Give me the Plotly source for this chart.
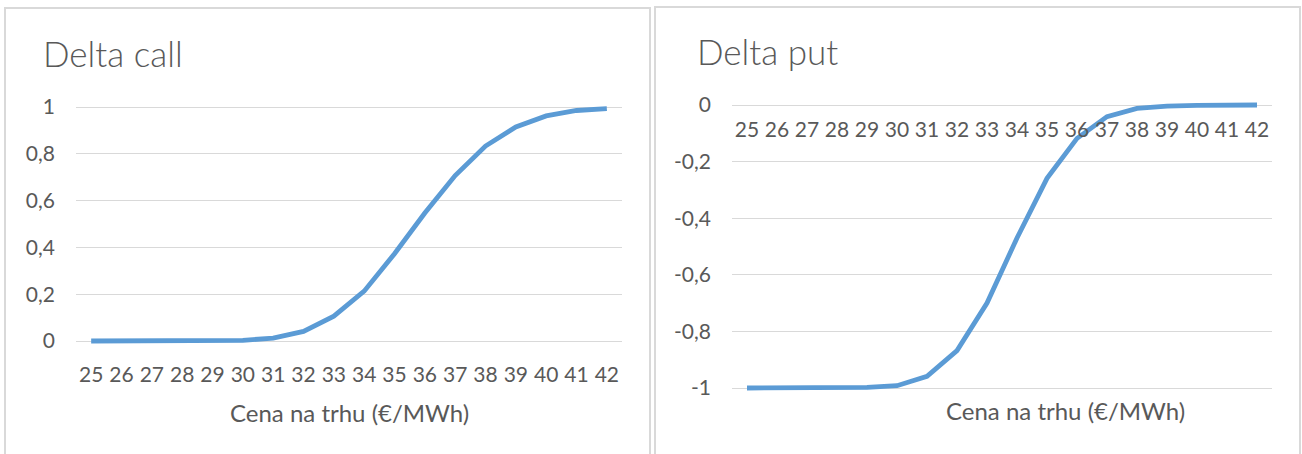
import plotly.graph_objects as go

# ---- data ----
prices = ["25", "26", "27", "28", "29", "30", "31", "32", "33", "34",
          "35", "36", "37", "38", "39", "40", "41", "42"]
delta_call = [0.0, 0.0, 0.0, 0.0, 0.001, 0.003, 0.012, 0.041, 0.106, 0.213,
              0.373, 0.547, 0.707, 0.833, 0.915, 0.962, 0.985, 0.993]
delta_put = [-1.0, -1.0, -1.0, -1.0, -0.998, -0.992, -0.959, -0.868, -0.700, -0.470,
             -0.259, -0.118, -0.041, -0.012, -0.004, -0.001, 0.0, 0.0]
call_ticks = [0, 0.2, 0.4, 0.6, 0.8, 1]
call_ticktext = ["0", "0,2", "0,4", "0,6", "0,8", "1"]
put_ticks = [-1, -0.8, -0.6, -0.4, -0.2, 0]
put_ticktext = ["-1", "-0,8", "-0,6", "-0,4", "-0,2", "0"]
title_call = "Delta call"
title_put = "Delta put"
x_title = "Cena na trhu (€/MWh)"

W, H = 1302, 454
FONT = "Lato"
GREY = "#595959"
GRID = "#D9D9D9"
LINE = "#5B9BD5"

def px(x):
    return x / W

def py(y):
    return 1 - y / H

fig = go.Figure()
fig.add_trace(go.Scatter(x=prices, y=delta_call, mode="lines",
                         line=dict(color=LINE, width=4.8), xaxis="x", yaxis="y",
                         showlegend=False, hoverinfo="x+y"))
fig.add_trace(go.Scatter(x=prices, y=delta_put, mode="lines",
                         line=dict(color=LINE, width=4.8), xaxis="x2", yaxis="y2",
                         showlegend=False, hoverinfo="x+y"))

# left chart: y=1 at 107px, y=0 at 341px -> 234 px per unit
pad = 0.02
l_top = 107 - pad * 234
l_bot = 341 + pad * 234
# right chart: y=0 at 105px, y=-1 at 388px -> 283 px per unit
r_top = 105 - pad * 283
r_bot = 388 + pad * 283

tickfont = dict(family=FONT, size=21, color=GREY)

fig.update_layout(
    template="none",
    width=W, height=H, autosize=False,
    margin=dict(l=0, r=0, t=0, b=0, pad=0),
    paper_bgcolor="white", plot_bgcolor="white",
    font=dict(family=FONT, color=GREY),
    xaxis=dict(domain=[px(76), px(622)], anchor="y", type="category",
               range=[-0.5, 17.5], showgrid=False, zeroline=False, showline=False,
               ticks="", tickfont=tickfont, ticklabelstandoff=14, fixedrange=True,
               automargin=False),
    yaxis=dict(domain=[py(l_bot), py(l_top)], anchor="x", range=[-pad, 1 + pad],
               tickvals=call_ticks, ticktext=call_ticktext, showgrid=True,
               gridcolor=GRID, gridwidth=1.3, zeroline=False, showline=False,
               ticks="", tickfont=tickfont, ticklabelstandoff=20, fixedrange=True,
               automargin=False),
    xaxis2=dict(domain=[px(732), px(1272)], anchor="free", position=py(105),
                type="category", range=[-0.5, 17.5], showgrid=False, zeroline=False,
                showline=False, ticks="", tickfont=tickfont, ticklabelstandoff=10,
                fixedrange=True, automargin=False),
    yaxis2=dict(domain=[py(r_bot), py(r_top)], anchor="x2", range=[-1 - pad, pad],
                tickvals=put_ticks, ticktext=put_ticktext, showgrid=True,
                gridcolor=GRID, gridwidth=1.3, zeroline=False, showline=False,
                ticks="", tickfont=tickfont, ticklabelstandoff=20, fixedrange=True,
                automargin=False),
    shapes=[
        dict(type="rect", xref="paper", yref="paper", x0=px(5), x1=px(650),
             y0=-0.2, y1=py(8), line=dict(color=GRID, width=2), layer="below"),
        dict(type="rect", xref="paper", yref="paper", x0=px(655), x1=px(1300),
             y0=-0.2, y1=py(7), line=dict(color=GRID, width=2), layer="below"),
    ],
    annotations=[
        dict(text=title_call, xref="paper", yref="paper", x=px(41), y=py(53),
             xanchor="left", yanchor="middle", showarrow=False,
             font=dict(family=FONT, size=35, color=GREY, weight=300)),
        dict(text=title_put, xref="paper", yref="paper", x=px(695), y=py(51),
             xanchor="left", yanchor="middle", showarrow=False,
             font=dict(family=FONT, size=35, color=GREY, weight=300)),
        dict(text=x_title, xref="paper", yref="paper", x=px(349), y=py(412),
             xanchor="center", yanchor="middle", showarrow=False,
             font=dict(family=FONT, size=24, color=GREY)),
        dict(text=x_title, xref="paper", yref="paper", x=px(1065), y=py(410),
             xanchor="center", yanchor="middle", showarrow=False,
             font=dict(family=FONT, size=24, color=GREY)),
    ],
)

fig.write_html("out.html",
               config={"displayModeBar": False},
               post_script="document.body.style.margin='0';"
                           "document.body.style.overflow='hidden';")
